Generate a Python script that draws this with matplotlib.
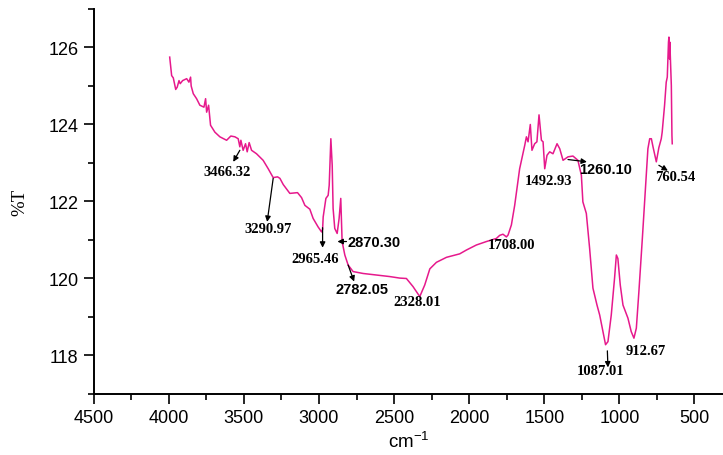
import matplotlib
matplotlib.use("Agg")
import matplotlib.pyplot as plt

# FTIR spectrum
wavenumber = [3994, 3981, 3970, 3954, 3944, 3932, 3924, 3908, 3881, 3866, 3855, 3851,
              3837, 3815, 3793, 3766, 3755, 3748, 3735, 3722, 3693, 3660, 3615, 3587,
              3560, 3538, 3527, 3520, 3505, 3489, 3478, 3465, 3449, 3416, 3372, 3338,
              3305, 3276, 3260, 3238, 3194, 3143, 3116, 3094, 3061, 3039, 3006, 2983,
              2976, 2972, 2954, 2939, 2932, 2921, 2912, 2906, 2895, 2879, 2866, 2855,
              2846, 2828, 2806, 2773, 2706, 2617, 2529, 2462, 2418, 2374, 2329, 2296,
              2262, 2218, 2151, 2063, 2018, 1952, 1885, 1819, 1797, 1775, 1752, 1741,
              1719, 1697, 1664, 1630, 1619, 1608, 1593, 1582, 1564, 1549, 1535, 1519,
              1508, 1497, 1482, 1464, 1442, 1415, 1397, 1375, 1342, 1309, 1276, 1253,
              1243, 1220, 1198, 1176, 1149, 1131, 1109, 1092, 1076, 1054, 1032, 1020,
              1010, 994, 976, 943, 921, 903, 887, 870, 847, 825, 810, 798,
              787, 776, 754, 737, 721, 715, 699, 688, 681, 677, 673, 670,
              666, 664, 654, 650, 648]
transmittance = [125.75, 125.27, 125.21, 124.91, 124.97, 125.14, 125.06, 125.14, 125.19, 125.10, 125.23, 125.00,
                 124.80, 124.67, 124.50, 124.45, 124.67, 124.32, 124.50, 123.98, 123.80, 123.68, 123.59, 123.70,
                 123.68, 123.63, 123.42, 123.59, 123.33, 123.50, 123.29, 123.53, 123.33, 123.24, 123.07, 122.85,
                 122.62, 122.64, 122.60, 122.44, 122.21, 122.23, 122.10, 121.90, 121.80, 121.56, 121.34, 121.21,
                 121.28, 121.60, 122.08, 122.16, 122.42, 123.63, 122.94, 121.82, 121.30, 121.17, 121.56, 122.08,
                 120.96, 120.61, 120.35, 120.18, 120.13, 120.09, 120.05, 120.01, 120.00, 119.79, 119.53, 119.83,
                 120.25, 120.42, 120.55, 120.64, 120.74, 120.87, 120.96, 121.04, 121.12, 121.15, 121.08, 121.13,
                 121.39, 121.90, 122.85, 123.46, 123.68, 123.55, 124.00, 123.33, 123.50, 123.55, 124.25, 123.59,
                 123.55, 122.85, 123.20, 123.29, 123.24, 123.50, 123.37, 123.07, 123.16, 123.18, 123.07, 122.68,
                 121.99, 121.69, 120.78, 119.75, 119.31, 119.05, 118.62, 118.28, 118.36, 119.05, 120.01, 120.61,
                 120.52, 119.83, 119.31, 118.97, 118.62, 118.45, 118.71, 119.66, 121.04, 122.42, 123.37, 123.63,
                 123.63, 123.42, 123.03, 123.40, 123.63, 123.80, 124.50, 125.10, 125.23, 125.70, 126.14, 126.27,
                 125.70, 126.14, 125.01, 123.72, 123.50]

peak_labels = ["3466.32", "3290.97", "2965.46", "2870.30", "2782.05", "2328.01",
               "1708.00", "1492.93", "1260.10", "1087.01", "912.67", "760.54"]

x_ticks = [4500, 4000, 3500, 3000, 2500, 2000, 1500, 1000, 500]
y_ticks = [118, 120, 122, 124, 126]

# label placement: (text x, text y, arrow tail, arrow tip, sans?)
label_layout = {
    "3466.32": ((3610, 122.79), ((3527, 123.33), (3571, 123.03)), False),
    "3290.97": ((3338, 121.30), ((3305, 122.60), (3345, 121.47)), False),
    "2965.46": ((3023, 120.52), ((2976, 121.32), (2976, 120.80)), False),
    "2870.30": ((2634, 120.96), ((2817, 120.96), (2877, 120.96)), True),
    "2782.05": ((2714, 119.73), ((2806, 120.35), (2766, 119.92)), True),
    "2328.01": ((2348, 119.40), None, False),
    "1708.00": ((1716, 120.87), None, False),
    "1492.93": ((1473, 122.55), None, False),
    "1260.10": ((1089, 122.85), ((1342, 123.09), (1216, 123.03)), True),
    "1087.01": ((1126, 117.60), ((1080, 118.12), (1076, 117.69)), False),
    "912.67": ((824, 118.14), None, False),
    "760.54": ((629, 122.64), ((737, 122.94), (677, 122.80)), False),
}

plt.rcParams['font.family'] = ['Liberation Sans', 'DejaVu Sans']
plt.rcParams['mathtext.default'] = 'regular'

fig = plt.figure(figsize=(7.23, 4.56), dpi=100)
ax = fig.add_axes([0.1296, 0.1338, 0.8704, 0.8443])

ax.plot(wavenumber, transmittance, color='#E6198C', lw=1.1)

for lab in peak_labels:
    (tx, ty), arrow, sans = label_layout[lab]
    if arrow is not None:
        tail, tip = arrow
        ax.annotate('', xy=tip, xytext=tail,
                    arrowprops=dict(arrowstyle='-|>', color='black', lw=0.9,
                                    mutation_scale=8, shrinkA=0, shrinkB=0))
    if sans:
        ax.text(tx, ty, lab, ha='center', va='center', fontsize=10.5,
                fontweight='bold', family='Liberation Sans')
    else:
        ax.text(tx, ty, lab, ha='center', va='center', fontsize=10.5,
                fontweight='bold', family='Liberation Serif')

ax.set_xlim(4500, 310)
ax.set_ylim(117, 127)
ax.set_xticks(x_ticks)
ax.set_yticks(y_ticks)
ax.set_xticks([4250, 3750, 3250, 2750, 2250, 1750, 1250, 750], minor=True)
ax.set_yticks([117, 119, 121, 123, 125, 127], minor=True)

for side in ['top', 'right']:
    ax.spines[side].set_visible(False)
for side in ['left', 'bottom']:
    ax.spines[side].set_linewidth(1.4)

ax.tick_params(which='major', direction='out', length=7, width=1.2, labelsize=13, pad=4)
ax.tick_params(which='minor', direction='out', length=4, width=1.2)

ax.set_xlabel('cm$^{-1}$', fontsize=13.5, labelpad=3)
ax.set_ylabel('%T', fontsize=13.5, family='Liberation Serif', labelpad=14)

fig.savefig('out.png', dpi=100)
